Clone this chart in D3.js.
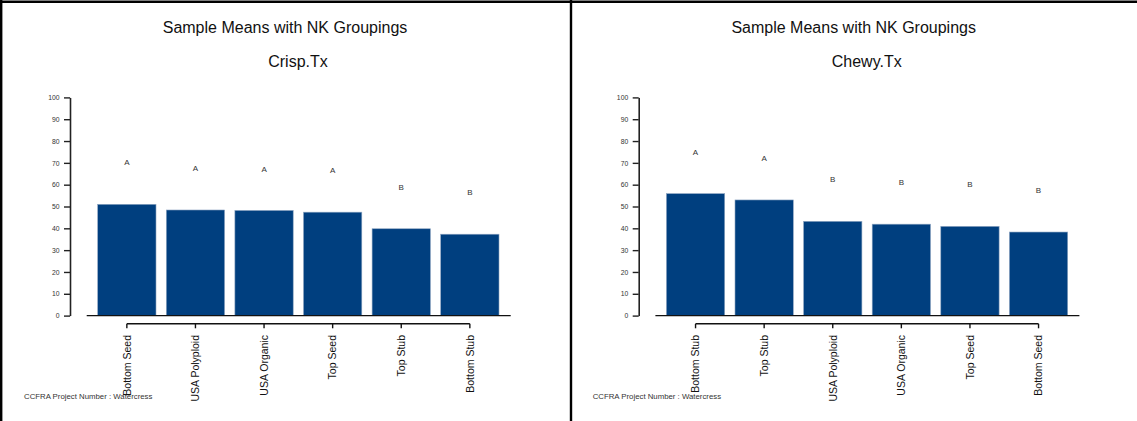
<!DOCTYPE html>
<html lang="en">
	<head>
		<meta charset="utf-8">
		<title>Sample Means with NK Groupings</title>
		<style>
			body { margin: 0; background: #ffffff; }
			svg { display: block; font-family: "Liberation Sans", Arial, sans-serif; }
			.title { font-size: 16px; fill: #111; }
			.ytick text { font-size: 6.8px; fill: #333; }
			.xlab { font-size: 10.5px; fill: #111; }
			.letter { font-size: 8px; fill: #333; }
			.footer { font-size: 7.8px; fill: #333; }
		</style>
	</head>
	<body>
		<div id="container"></div>
		<script src="https://cdnjs.cloudflare.com/ajax/libs/d3/7.8.5/d3.min.js"></script>
		<script>
			// Data
			var crispNames = ["Bottom Seed", "USA Polyploid", "USA Organic", "Top Seed", "Top Stub", "Bottom Stub"];
			var crispMeans = [51.0, 48.4, 48.2, 47.4, 39.8, 37.3];
			var crispGroups = ["A", "A", "A", "A", "B", "B"];

			var chewyNames = ["Bottom Stub", "Top Stub", "USA Polyploid", "USA Organic", "Top Seed", "Bottom Seed"];
			var chewyMeans = [55.9, 53.0, 43.2, 41.9, 40.9, 38.3];
			var chewyGroups = ["A", "A", "B", "B", "B", "B"];

			var yTicks = [0, 10, 20, 30, 40, 50, 60, 70, 80, 90, 100];
			var mainTitle = "Sample Means with NK Groupings";
			var footerText = "CCFRA Project Number : Watercress";

			var panels = [
				{ sub: "Crisp.Tx", names: crispNames, means: crispMeans, groups: crispGroups },
				{ sub: "Chewy.Tx", names: chewyNames, means: chewyMeans, groups: chewyGroups }
			];

			var width = 1137, height = 421;
			var panelOffset = 568.7;
			var letterOffset = 19.2; // letters sit a fixed distance above each bar

			var svg = d3.select("#container").append("svg")
						.attr("width", width)
						.attr("height", height);

			// panel frames: top edge, left edge and the divider
			var frame = svg.append("g").attr("stroke", "#000").attr("stroke-width", 2.4);
			frame.append("line").attr("x1", 0).attr("x2", width).attr("y1", 1.8).attr("y2", 1.8);
			frame.append("line").attr("x1", 1.2).attr("x2", 1.2).attr("y1", 0).attr("y2", height);
			frame.append("line").attr("x1", 571).attr("x2", 571).attr("y1", 0).attr("y2", height);

			var yScale = d3.scaleLinear()
						   .domain([0, 100])
						   .range([315.6, 97.4]);

			panels.forEach(function(p, i) {
				var g = svg.append("g")
						   .attr("transform", "translate(" + (i * panelOffset) + ",0)");

				var xScale = d3.scaleBand()
							   .domain(p.names)
							   .range([92.55, 504.15])
							   .paddingInner(0.15)
							   .paddingOuter(0.075);

				// titles
				g.append("text").attr("class", "title")
				 .attr("x", 285).attr("y", 33)
				 .attr("text-anchor", "middle")
				 .text(mainTitle);
				g.append("text").attr("class", "title")
				 .attr("x", 298).attr("y", 67)
				 .attr("text-anchor", "middle")
				 .text(p.sub);

				// y axis
				var yAxis = d3.axisLeft(yScale)
							  .tickValues(yTicks)
							  .tickSize(6)
							  .tickSizeOuter(0)
							  .tickPadding(4.5);
				var ya = g.append("g")
						  .attr("class", "ytick")
						  .attr("transform", "translate(70,0)")
						  .call(yAxis);
				ya.select(".domain").attr("stroke", "#222").attr("stroke-width", 1.6);
				ya.selectAll(".tick line").attr("stroke", "#222").attr("stroke-width", 1.4);
				ya.selectAll(".tick text").attr("font-size", null).attr("font-family", null);

				// bars
				var rows = p.names.map(function(n, k) {
					return { name: n, mean: p.means[k], group: p.groups[k] };
				});

				g.selectAll("rect.bar")
				 .data(rows)
				 .enter().append("rect")
					.attr("class", "bar")
					.attr("x", function(d) { return xScale(d.name); })
					.attr("width", xScale.bandwidth())
					.attr("y", function(d) { return yScale(d.mean); })
					.attr("height", function(d) { return yScale(0) - yScale(d.mean); })
					.attr("fill", "#003f7f")
					.attr("stroke", "#8fa6c2")
					.attr("stroke-width", 0.6);

				// grouping letters
				g.selectAll("text.letter")
				 .data(rows)
				 .enter().append("text")
					.attr("class", "letter")
					.attr("x", function(d) { return xScale(d.name) + xScale.bandwidth() / 2; })
					.attr("y", function(d) { return yScale(d.mean + letterOffset) + 3; })
					.attr("text-anchor", "middle")
					.text(function(d) { return d.group; });

				// baseline at zero
				g.append("line")
				 .attr("x1", 86.7).attr("x2", 510.7)
				 .attr("y1", yScale(0)).attr("y2", yScale(0))
				 .attr("stroke", "#111").attr("stroke-width", 1.4);

				// category axis below the plot
				var xAxis = d3.axisBottom(xScale).tickSize(4.5).tickSizeOuter(0).tickFormat("");
				var xa = g.append("g")
						  .attr("transform", "translate(0,323.8)")
						  .call(xAxis);
				var c0 = xScale(p.names[0]) + xScale.bandwidth() / 2;
				var c1 = xScale(p.names[p.names.length - 1]) + xScale.bandwidth() / 2;
				xa.select(".domain").attr("d", "M" + c0 + ",0H" + c1).attr("stroke", "#111").attr("stroke-width", 1.4);
				xa.selectAll(".tick line").attr("stroke", "#111").attr("stroke-width", 1.4);

				g.selectAll("text.xlab")
				 .data(p.names)
				 .enter().append("text")
					.attr("class", "xlab")
					.attr("transform", function(d) {
						return "translate(" + (xScale(d) + xScale.bandwidth() / 2 + 3.8) + ",335) rotate(-90)";
					})
					.attr("text-anchor", "end")
					.text(function(d) { return d; });

				// footer note
				g.append("text").attr("class", "footer")
				 .attr("x", 24).attr("y", 399)
				 .text(footerText);
			});
		</script>
	</body>
</html>
